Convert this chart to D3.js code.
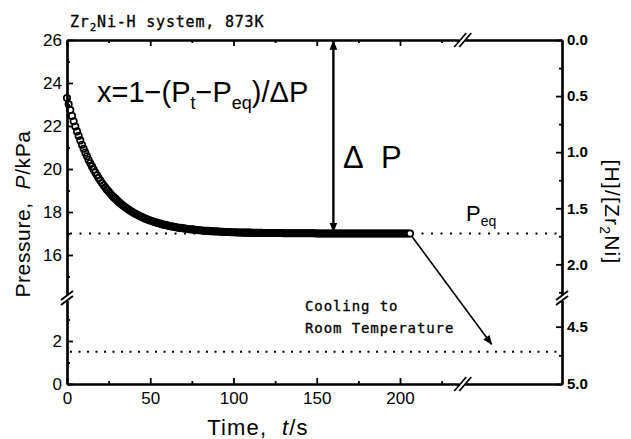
<!DOCTYPE html>
<html>
<head>
<meta charset="utf-8">
<script src="https://cdn.jsdelivr.net/npm/d3@7"></script>
<style>
body { margin: 0; background: #fff; }
text { fill: #000; }
</style>
</head>
<body>
<div id="container"></div>
<script>
// pressure readings (kPa), one every timeStep seconds starting at t = 0
const timeStep = 1;
const pressure = [
  23.30, 23.01, 22.74, 22.47, 22.22, 21.98, 21.75, 21.54, 21.33, 21.13,
  20.94, 20.76, 20.59, 20.42, 20.27, 20.12, 19.97, 19.84, 19.71, 19.58,
  19.46, 19.35, 19.24, 19.14, 19.04, 18.95, 18.86, 18.77, 18.69, 18.62,
  18.54, 18.47, 18.40, 18.34, 18.28, 18.22, 18.16, 18.11, 18.06, 18.01,
  17.96, 17.92, 17.88, 17.84, 17.80, 17.76, 17.73, 17.69, 17.66, 17.63,
  17.60, 17.58, 17.55, 17.52, 17.50, 17.48, 17.46, 17.43, 17.41, 17.40,
  17.38, 17.36, 17.34, 17.33, 17.31, 17.30, 17.28, 17.27, 17.26, 17.25,
  17.24, 17.23, 17.21, 17.20, 17.20, 17.19, 17.18, 17.17, 17.16, 17.15,
  17.15, 17.14, 17.13, 17.13, 17.12, 17.12, 17.11, 17.11, 17.10, 17.10,
  17.09, 17.09, 17.08, 17.08, 17.08, 17.07, 17.07, 17.07, 17.06, 17.06,
  17.06, 17.06, 17.05, 17.05, 17.05, 17.05, 17.04, 17.04, 17.04, 17.04,
  17.04, 17.03, 17.03, 17.03, 17.03, 17.03, 17.03, 17.03, 17.02, 17.02,
  17.02, 17.02, 17.02, 17.02, 17.02, 17.02, 17.02, 17.02, 17.02, 17.02,
  17.01, 17.01, 17.01, 17.01, 17.01, 17.01, 17.01, 17.01, 17.01, 17.01,
  17.01, 17.01, 17.01, 17.01, 17.01, 17.01, 17.01, 17.01, 17.01, 17.01,
  17.00, 17.00, 17.00, 17.00, 17.00, 17.00, 17.00, 17.00, 17.00, 17.00,
  17.00, 17.00, 17.00, 17.00, 17.00, 17.00, 17.00, 17.00, 17.00, 17.00,
  17.00, 17.00, 17.00, 17.00, 17.00, 17.00, 17.00, 17.00, 17.00, 17.00,
  17.00, 17.00, 17.00, 17.00, 17.00, 17.00, 17.00, 17.00, 17.00, 17.00,
  17.00, 17.00, 17.00, 17.00, 17.00, 17.00, 17.00, 17.00, 17.00, 17.00,
  17.00, 17.00, 17.00, 17.00, 17.00, 17.00, 17.00
];
const peq = 17.0;        // equilibrium pressure at 873K
const pRoom = 1.5;       // pressure after cooling
const xTicks = [0, 50, 100, 150, 200];
const xMinor = [25, 75, 125, 175, 225];
const xBreak = 238;
const xMax = 297.3;
const pTicksUp = [16, 18, 20, 22, 24, 26];
const pMinorUp = [15, 17, 19, 21, 23, 25];
const pTicksLow = [0, 2];
const pMinorLow = [1, 3];
const pUpDomain = [14, 26];
const pLowDomain = [0, 4];
const hTicksUp = [0, 0.5, 1.0, 1.5, 2.0];
const hMinorUp = [0.25, 0.75, 1.25, 1.75, 2.25];
const hTicksLow = [4.5, 5.0];
const hMinorLow = [4.75];
const hUpDomain = [0, 2.3];
const hLowDomain = [4.25, 5.0];

const w = 631, h = 439;
const mLeft = 67, mRight = 562, mTop = 40, mBottom = 384, yBreak = 298;

const xScale = d3.scaleLinear().domain([0, xMax]).range([mLeft, mRight]);
const yUp = d3.scaleLinear().domain(pUpDomain).range([yBreak, mTop]);
const yLow = d3.scaleLinear().domain(pLowDomain).range([mBottom, yBreak]);
const hUp = d3.scaleLinear().domain(hUpDomain).range([mTop, yBreak]);
const hLow = d3.scaleLinear().domain(hLowDomain).range([yBreak, mBottom]);

const svg = d3.select("#container")
  .append("svg")
  .attr("width", w)
  .attr("height", h);

const defs = svg.append("defs");
defs.append("marker")
  .attr("id", "head")
  .attr("viewBox", "0 0 10 10")
  .attr("refX", 9).attr("refY", 5)
  .attr("markerWidth", 4).attr("markerHeight", 4)
  .attr("markerUnits", "strokeWidth")
  .attr("orient", "auto-start-reverse")
  .append("path").attr("d", "M0,1 L10,5 L0,9 Z").attr("fill", "#000");
defs.append("marker")
  .attr("id", "headThin")
  .attr("viewBox", "0 0 10 10")
  .attr("refX", 9).attr("refY", 5)
  .attr("markerWidth", 7).attr("markerHeight", 6)
  .attr("markerUnits", "strokeWidth")
  .attr("orient", "auto")
  .append("path").attr("d", "M0,1 L10,5 L0,9 Z").attr("fill", "#000");

// dotted reference lines
svg.append("line")
  .attr("x1", mLeft + 3).attr("x2", mRight)
  .attr("y1", yUp(peq)).attr("y2", yUp(peq))
  .attr("stroke", "#000").attr("stroke-width", 2)
  .attr("stroke-dasharray", "2,7.5");
svg.append("line")
  .attr("x1", mLeft + 3).attr("x2", mRight)
  .attr("y1", yLow(pRoom)).attr("y2", yLow(pRoom))
  .attr("stroke", "#000").attr("stroke-width", 2)
  .attr("stroke-dasharray", "2,6.5");

// data points
svg.selectAll("circle.pt")
  .data(pressure)
  .enter()
  .append("circle")
  .attr("class", "pt")
  .attr("cx", (d, i) => xScale(i * timeStep))
  .attr("cy", (d) => yUp(d))
  .attr("r", 3.2)
  .attr("fill", (d, i) => i == pressure.length - 1 ? "#fff" : "none")
  .attr("stroke", "#000")
  .attr("stroke-width", 1.7);

// axes
function drawAxis(axis, scale, tx, ty, major, minor, fmt, size) {
  const g = svg.append("g").attr("transform", "translate(" + tx + "," + ty + ")");
  g.append("g")
    .call(axis(scale).tickValues(minor).tickSizeInner(-3).tickSizeOuter(0).tickFormat(""));
  g.append("g")
    .call(axis(scale).tickValues(major).tickSizeInner(-6).tickSizeOuter(0).tickPadding(5).tickFormat(fmt));
  g.selectAll("path.domain").attr("stroke-width", 2.2);
  g.selectAll(".tick line").attr("stroke-width", 1.8);
  g.selectAll("text")
    .attr("font-family", "Liberation Sans, Arial, sans-serif")
    .attr("font-size", size);
  return g;
}

const ax1 = drawAxis(d3.axisBottom, xScale, 0, mBottom, xTicks, xMinor, d3.format("d"), 17);
ax1.selectAll("text").attr("dy", "0.9em");
drawAxis(d3.axisTop, xScale, 0, mTop, xTicks, xMinor, "", 16);
const ay1 = drawAxis(d3.axisLeft, yUp, mLeft, 0, pTicksUp, pMinorUp, d3.format("d"), 17);
const ay2 = drawAxis(d3.axisLeft, yLow, mLeft, 0, pTicksLow, pMinorLow, d3.format("d"), 17);
const ah1 = drawAxis(d3.axisRight, hUp, mRight, 0, hTicksUp, hMinorUp, d3.format(".1f"), 15);
const ah2 = drawAxis(d3.axisRight, hLow, mRight, 0, hTicksLow, hMinorLow, d3.format(".1f"), 15);
ah1.selectAll("text").attr("font-weight", "bold");
ah2.selectAll("text").attr("font-weight", "bold");

// axis breaks
function hBreak(x, y) {
  svg.append("rect").attr("x", x - 4).attr("y", y - 3).attr("width", 6).attr("height", 6).attr("fill", "#fff");
  [-3, 2].forEach(function(o) {
    svg.append("line")
      .attr("x1", x + o - 6).attr("y1", y + 7)
      .attr("x2", x + o + 6).attr("y2", y - 7)
      .attr("stroke", "#000").attr("stroke-width", 1.8);
  });
}
function vBreak(x, y) {
  svg.append("rect").attr("x", x - 3).attr("y", y - 3).attr("width", 6).attr("height", 6).attr("fill", "#fff");
  [-3, 2].forEach(function(o) {
    svg.append("line")
      .attr("x1", x - 6).attr("y1", y + o + 5)
      .attr("x2", x + 6).attr("y2", y + o - 4)
      .attr("stroke", "#000").attr("stroke-width", 1.8);
  });
}
hBreak(xScale(xBreak), mTop);
hBreak(xScale(xBreak), mBottom);
vBreak(mLeft, yBreak);
vBreak(mRight, yBreak);

// axis titles
svg.append("text")
  .attr("transform", "translate(30," + ((mTop + mBottom) / 2 + 2) + ") rotate(-90)")
  .attr("text-anchor", "middle")
  .attr("font-family", "Liberation Sans, Arial, sans-serif")
  .attr("font-size", 21)
  .attr("letter-spacing", 0.6)
  .html('Pressure,&#160;&#160;<tspan font-style="italic">P</tspan>/kPa');
svg.append("text")
  .attr("x", 258).attr("y", 435)
  .attr("text-anchor", "middle")
  .attr("font-family", "Liberation Sans, Arial, sans-serif")
  .attr("font-size", 22)
  .attr("letter-spacing", 1.2)
  .html('Time,&#160;&#160;<tspan font-style="italic">t</tspan>/s');
svg.append("text")
  .attr("transform", "translate(605," + ((mTop + mBottom) / 2) + ") rotate(90)")
  .attr("text-anchor", "middle")
  .attr("font-family", "Liberation Sans, Arial, sans-serif")
  .attr("font-size", 21)
  .attr("letter-spacing", 1.2)
  .html('[H]/[Zr<tspan font-size="14" dy="5">2</tspan><tspan dy="-5">Ni]</tspan>');

// title
svg.append("text")
  .attr("x", 70).attr("y", 27)
  .attr("font-family", "DejaVu Sans Mono, monospace")
  .attr("font-size", 15)
  .attr("letter-spacing", 0.8)
  .attr("stroke", "#000").attr("stroke-width", 0.3)
  .html('Zr<tspan font-size="11" dy="4">2</tspan><tspan dy="-4">Ni-H system, 873K</tspan>');

// formula
svg.append("text")
  .attr("x", 97).attr("y", 102)
  .attr("font-family", "Liberation Sans, Arial, sans-serif")
  .attr("font-size", 29)
  .html('x=1−(P<tspan font-size="18" dy="7">t</tspan><tspan dy="-7">−P</tspan><tspan font-size="18" dy="7">eq</tspan><tspan dy="-7">)/ΔP</tspan>');

// delta P arrow
const xArrow = 160;
svg.append("line")
  .attr("x1", xScale(xArrow)).attr("x2", xScale(xArrow))
  .attr("y1", mTop + 1).attr("y2", yUp(peq) - 2)
  .attr("stroke", "#000").attr("stroke-width", 2.4)
  .attr("marker-start", "url(#head)")
  .attr("marker-end", "url(#head)");
svg.append("text")
  .attr("x", 343).attr("y", 168)
  .attr("font-family", "Liberation Sans, Arial, sans-serif")
  .attr("font-size", 31)
  .html('Δ&#160;&#160;P');

// Peq label
svg.append("text")
  .attr("x", 466).attr("y", 221)
  .attr("font-family", "Liberation Sans, Arial, sans-serif")
  .attr("font-size", 22)
  .html('P<tspan font-size="14" dy="5">eq</tspan>');

// cooling arrow
const tLast = (pressure.length - 1) * timeStep;
svg.append("line")
  .attr("x1", xScale(tLast) + 2).attr("y1", yUp(pressure[pressure.length - 1]) + 3)
  .attr("x2", xScale(255)).attr("y2", yLow(1.85))
  .attr("stroke", "#000").attr("stroke-width", 1.6)
  .attr("marker-end", "url(#headThin)");
svg.append("text")
  .attr("x", 305).attr("y", 311)
  .attr("font-family", "DejaVu Sans Mono, monospace")
  .attr("font-size", 14)
  .attr("letter-spacing", 0.9)
  .attr("stroke", "#000").attr("stroke-width", 0.3)
  .text("Cooling to");
svg.append("text")
  .attr("x", 305).attr("y", 333)
  .attr("font-family", "DejaVu Sans Mono, monospace")
  .attr("font-size", 14)
  .attr("letter-spacing", 0.9)
  .attr("stroke", "#000").attr("stroke-width", 0.3)
  .text("Room Temperature");
</script>
</body>
</html>
